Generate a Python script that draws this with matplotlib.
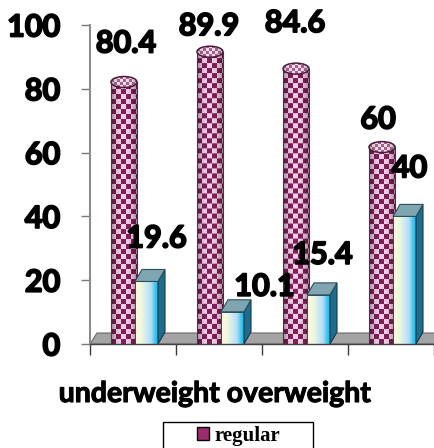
import numpy as np
import matplotlib
matplotlib.use("Agg")
import matplotlib.pyplot as plt
import matplotlib.patheffects as pe
from matplotlib.patches import Rectangle, Ellipse, Polygon
from matplotlib.colors import to_rgb

# ---- data ----
groups = [0, 1, 2, 3]
regular = [80.4, 89.9, 84.6, 60]
other = [19.6, 10.1, 15.4, 40]
y_ticks = [0, 20, 40, 60, 80, 100]
x_title = "underweight overweight"
legend_label = "regular"

# value-label offsets in pixels (dx, dy) from the top of each mark
regular_label_off = [(2, 44), (-1, 31), (-1, 51), (-4, 33)]
other_label_off = [(10, 43), (32, 25), (4, 40), (5, 48)]

plt.rcParams["font.family"] = ["Lato", "DejaVu Sans"]
heavy = [pe.withStroke(linewidth=1.3, foreground="black")]

W, H, DPI = 435, 448, 100
fig = plt.figure(figsize=(W / DPI, H / DPI), dpi=DPI)
ax_l, ax_r, ax_t, ax_b = 90, 434, 25, 344
ax = fig.add_axes([ax_l / W, 1 - ax_b / H, (ax_r - ax_l) / W, (ax_b - ax_t) / H])
XMIN, XMAX, YMIN, YMAX = -0.5, 3.5, 0, 100
PX = (XMAX - XMIN) / (ax_r - ax_l)   # data units per pixel, x
PY = (YMAX - YMIN) / (ax_b - ax_t)   # data units per pixel, y
DX, DY = 7, 12                       # depth of the 3-D faces in pixels

# ---- floor ----
floor = Polygon([(XMIN, 0), (XMAX + 3 * PX, 0),
                 (XMAX + (3 + DX) * PX, 11 * PY), (XMIN + DX * PX, 11 * PY)],
                closed=True, fc="#a4a4a4", ec="#6a6a6a", lw=0.8, zorder=1, clip_on=False)
ax.add_patch(floor)

c_dark = np.array(to_rgb("#7e2157"))
c_light = np.array(to_rgb("#f6cdea"))


def checker_texture(h, w, lighten=0.0, cell=5):
    yy, xx = np.mgrid[0:h, 0:w]
    chk = ((yy // cell + xx // cell) % 2).astype(bool)
    col = np.where(chk[..., None], c_light, c_dark)
    u = (xx + 0.5) / w
    shade = 0.55 + 0.45 * np.sin(np.pi * u) ** 0.5
    col = col * shade[..., None]
    col = col * (1 - lighten) + lighten
    return np.clip(col, 0, 1)


def cylinder(xc, val, zo=2):
    w, eh = 26, 11
    half = w / 2 * PX
    top_c = val + eh / 2 * PY
    hpx = max(int(round(top_c / PY)), 1)
    ax.imshow(checker_texture(hpx, w), extent=[xc - half, xc + half, 0, top_c],
              origin="lower", aspect="auto", interpolation="bilinear", zorder=zo)
    for xe in (xc - half, xc + half):
        ax.plot([xe, xe], [0, top_c], color="#5b2b4b", lw=0.8, zorder=zo + 0.05)
    ell = Ellipse((xc, top_c), w * PX, eh * PY, fc="none", ec="#4b1c3b", lw=1.1, zorder=zo + 0.2)
    ax.add_patch(ell)
    top = ax.imshow(checker_texture(eh, w, lighten=0.3, cell=3),
                    extent=[xc - half, xc + half, top_c - eh / 2 * PY, top_c + eh / 2 * PY],
                    origin="lower", aspect="auto", interpolation="bilinear", zorder=zo + 0.1)
    top.set_clip_path(ell)


front_stops = [(0.0, "#fffce0"), (0.3, "#eef6dc"), (0.5, "#cdeaf4"), (0.7, "#b4dcf6"),
               (0.88, "#3ec6f0"), (1.0, "#27b4e2")]


def front_gradient(n=60):
    xs = np.linspace(0, 1, n)
    pos = [p for p, _ in front_stops]
    cols = np.array([to_rgb(c) for _, c in front_stops])
    g = np.stack([np.interp(xs, pos, cols[:, k]) for k in range(3)], axis=-1)
    return g[None, :, :]


def box(xc, val, zo=3):
    x0, x1 = xc + 2 * PX, xc + 25 * PX
    ax.imshow(front_gradient(), extent=[x0, x1, 0, val], origin="lower",
              aspect="auto", interpolation="bilinear", zorder=zo)
    ax.add_patch(Rectangle((x0, 0), x1 - x0, val, fc="none", ec="#2a4d5c", lw=0.7, zorder=zo + 0.1))
    ax.add_patch(Polygon([(x1, 0), (x1 + DX * PX, DY * PY), (x1 + DX * PX, val + DY * PY), (x1, val)],
                         closed=True, fc="#1f6c8c", ec="#123a50", lw=0.8, zorder=zo + 0.1))
    ax.add_patch(Polygon([(x0, val), (x1, val), (x1 + DX * PX, val + DY * PY), (x0 + DX * PX, val + DY * PY)],
                         closed=True, fc="#7fa5b1", ec="#2c4f5e", lw=0.8, zorder=zo + 0.1))


cyl_off = -9 * PX
box_center_off = 13.5 * PX
for g, r, o in zip(groups, regular, other):
    cylinder(g + cyl_off, r)
    box(g, o)

lab_kw = dict(ha="center", va="center", fontsize=22, fontweight="bold",
              textcoords="offset points", zorder=10, annotation_clip=False,
              path_effects=heavy)
for g, r, (dx, dy) in zip(groups, regular, regular_label_off):
    ax.annotate(f"{r:g}", xy=(g + cyl_off, r), xytext=(dx * 0.72, dy * 0.72), **lab_kw)
for g, o, (dx, dy) in zip(groups, other, other_label_off):
    ax.annotate(f"{o:g}", xy=(g + box_center_off, o), xytext=(dx * 0.72, dy * 0.72), **lab_kw)

# ---- axes ----
ax.set_xlim(XMIN, XMAX)
ax.set_ylim(YMIN, YMAX)
ax.set_yticks(y_ticks)
ax.set_yticklabels([str(t) for t in y_ticks], fontsize=22, fontweight="bold")
for t in ax.get_yticklabels():
    t.set_path_effects(heavy)
ax.tick_params(axis="y", length=6.5, width=1, color="#7a7a7a", pad=15)
ax.set_xticks([XMIN + i for i in range(5)])
ax.set_xticklabels([])
ax.tick_params(axis="x", length=8, width=1, color="#3a3a3a", direction="out")
for s in ("top", "right"):
    ax.spines[s].set_visible(False)
ax.spines["left"].set_color("#8c8c8c")
ax.spines["left"].set_linewidth(1.5)
ax.spines["bottom"].set_color("#404040")
ax.spines["bottom"].set_linewidth(1)
ax.spines["bottom"].set_zorder(4)
ax.patch.set_alpha(0)

fig.text(215 / W, 1 - 394 / H, x_title, ha="center", va="center", fontsize=20.5,
         fontweight="bold", path_effects=[pe.withStroke(linewidth=0.8, foreground="black")])

# ---- legend ----
frame = Rectangle((163 / W, 1 - 470 / H), 150 / W, 48 / H, transform=fig.transFigure,
                  fc="white", ec="black", lw=1, zorder=0)
fig.patches.append(frame)
handle = Rectangle((0, 0), 1, 1, fc="#9b2d6e", ec="black", lw=1)
fig.legend(handles=[handle], labels=[legend_label], loc="center",
           bbox_to_anchor=(239 / W, 1 - 436 / H), frameon=False,
           prop={"family": "Liberation Serif", "weight": "bold", "size": 15},
           handlelength=0.55, handleheight=0.6, handletextpad=0.3,
           borderpad=0, borderaxespad=0)

fig.savefig("out.png", dpi=DPI)
